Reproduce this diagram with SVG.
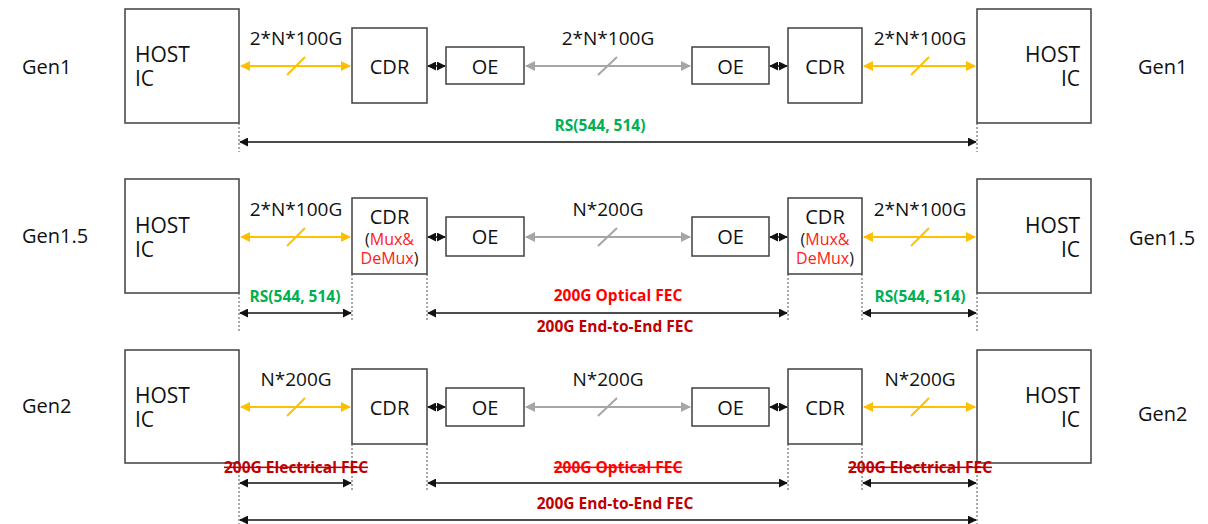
<svg xmlns="http://www.w3.org/2000/svg" width="1208" height="524" viewBox="0 0 1208 524">
<defs>
<style>
text{font-family:"Open Sans","Noto Sans","Liberation Sans",sans-serif;fill:#111}
.box{fill:#fff;stroke:#404040;stroke-width:1.5}
.host{font-size:21px}
.lbl{font-size:19px;text-anchor:middle}
.blk{font-size:20px;text-anchor:middle}
.gen{font-size:20px}
.mux{font-size:16px}
.red{fill:#ff2020}
.fec{font-size:15.5px;font-weight:bold;text-anchor:middle}
.grn{fill:#00b050}
.ored{fill:#ff0000}
.dred{fill:#c00000}
.strike{text-decoration:line-through}
.ylw{stroke:#ffc000;stroke-width:2;fill:none}
.gry{stroke:#a6a6a6;stroke-width:2;fill:none}
.bk{stroke:#111;stroke-width:1.5;fill:none}
.dot{stroke:#555;stroke-width:1;stroke-dasharray:2 2;fill:none}
</style>
<marker id="ay" viewBox="0 0 10 10" refX="9" refY="5" markerWidth="5" markerHeight="5" orient="auto-start-reverse"><path d="M0,0 L10,5 L0,10 z" fill="#ffc000"/></marker>
<marker id="ag" viewBox="0 0 10 10" refX="9" refY="5" markerWidth="5" markerHeight="5" orient="auto-start-reverse"><path d="M0,0 L10,5 L0,10 z" fill="#a6a6a6"/></marker>
<marker id="ab" viewBox="0 0 10 10" refX="9" refY="5" markerWidth="6" markerHeight="6" orient="auto-start-reverse"><path d="M0,0 L10,5 L0,10 z" fill="#111"/></marker>
</defs>
<rect width="1208" height="524" fill="#fff"/>

<!-- Row labels -->
<g id="labels">
<text class="gen" x="22" y="74">Gen1</text>
<text class="gen" x="1138" y="74">Gen1</text>
<text class="gen" x="22" y="243">Gen1.5</text>
<text class="gen" x="1129" y="245">Gen1.5</text>
<text class="gen" x="22" y="413">Gen2</text>
<text class="gen" x="1138" y="421">Gen2</text>
</g>

<!-- Gen1 nodes -->
<g id="g1-host-l"><rect class="box" x="125" y="9" width="114" height="114"/><text class="host" x="135" y="62">HOST<tspan x="135" dy="24">IC</tspan></text></g>
<g id="g1-cdr-l"><rect class="box" x="352" y="28" width="75" height="75"/><text class="blk" x="389.5" y="74">CDR</text></g>
<g id="g1-oe-l"><rect class="box" x="446" y="47" width="78" height="37"/><text class="blk" x="485" y="74">OE</text></g>
<g id="g1-oe-r"><rect class="box" x="692" y="47" width="77" height="37"/><text class="blk" x="730.5" y="74">OE</text></g>
<g id="g1-cdr-r"><rect class="box" x="788" y="28" width="74" height="75"/><text class="blk" x="825" y="74">CDR</text></g>
<g id="g1-host-r"><rect class="box" x="977" y="9" width="114" height="114"/><text class="host" x="1080" y="62" text-anchor="end">HOST<tspan x="1080" dy="24">IC</tspan></text></g>

<!-- Gen1.5 nodes -->
<g id="g15-host-l"><rect class="box" x="125" y="179" width="114" height="114"/><text class="host" x="135" y="233">HOST<tspan x="135" dy="24">IC</tspan></text></g>
<g id="g15-cdr-l"><rect class="box" x="352" y="198" width="75" height="76"/><text class="blk" x="389.5" y="224">CDR<tspan class="mux" x="389.5" dy="21">(<tspan class="red">Mux&amp;</tspan></tspan><tspan class="mux" x="389.5" dy="19"><tspan class="red">DeMux</tspan>)</tspan></text></g>
<g id="g15-oe-l"><rect class="box" x="446" y="217" width="78" height="39"/><text class="blk" x="485" y="244">OE</text></g>
<g id="g15-oe-r"><rect class="box" x="692" y="217" width="77" height="39"/><text class="blk" x="730.5" y="244">OE</text></g>
<g id="g15-cdr-r"><rect class="box" x="788" y="198" width="74" height="76"/><text class="blk" x="825" y="224">CDR<tspan class="mux" x="825" dy="21">(<tspan class="red">Mux&amp;</tspan></tspan><tspan class="mux" x="825" dy="19"><tspan class="red">DeMux</tspan>)</tspan></text></g>
<g id="g15-host-r"><rect class="box" x="977" y="179" width="114" height="114"/><text class="host" x="1080" y="233" text-anchor="end">HOST<tspan x="1080" dy="24">IC</tspan></text></g>

<!-- Gen2 nodes -->
<g id="g2-host-l"><rect class="box" x="125" y="350" width="114" height="113"/><text class="host" x="135" y="403">HOST<tspan x="135" dy="24">IC</tspan></text></g>
<g id="g2-cdr-l"><rect class="box" x="352" y="369" width="75" height="75"/><text class="blk" x="389.5" y="415">CDR</text></g>
<g id="g2-oe-l"><rect class="box" x="446" y="388" width="78" height="38"/><text class="blk" x="485" y="415">OE</text></g>
<g id="g2-oe-r"><rect class="box" x="692" y="388" width="77" height="38"/><text class="blk" x="730.5" y="415">OE</text></g>
<g id="g2-cdr-r"><rect class="box" x="788" y="369" width="74" height="75"/><text class="blk" x="825" y="415">CDR</text></g>
<g id="g2-host-r"><rect class="box" x="977" y="350" width="114" height="113"/><text class="host" x="1080" y="403" text-anchor="end">HOST<tspan x="1080" dy="24">IC</tspan></text></g>

<!-- Connectors -->
<g id="connectors">
<!-- Gen1 -->
<line class="ylw" x1="241" y1="66" x2="350" y2="66" marker-start="url(#ay)" marker-end="url(#ay)"/>
<line class="ylw" x1="287" y1="75" x2="305" y2="57"/>
<line class="bk" x1="428" y1="66" x2="445" y2="66" marker-start="url(#ab)" marker-end="url(#ab)"/>
<line class="gry" x1="526" y1="66" x2="690" y2="66" marker-start="url(#ag)" marker-end="url(#ag)"/>
<line class="gry" x1="598" y1="75" x2="617" y2="57"/>
<line class="bk" x1="770" y1="66" x2="787" y2="66" marker-start="url(#ab)" marker-end="url(#ab)"/>
<line class="ylw" x1="864" y1="66" x2="975" y2="66" marker-start="url(#ay)" marker-end="url(#ay)"/>
<line class="ylw" x1="911" y1="75" x2="929" y2="57"/>
<!-- Gen1.5 -->
<line class="ylw" x1="241" y1="237" x2="350" y2="237" marker-start="url(#ay)" marker-end="url(#ay)"/>
<line class="ylw" x1="287" y1="246" x2="305" y2="228"/>
<line class="bk" x1="428" y1="237" x2="445" y2="237" marker-start="url(#ab)" marker-end="url(#ab)"/>
<line class="gry" x1="526" y1="237" x2="690" y2="237" marker-start="url(#ag)" marker-end="url(#ag)"/>
<line class="gry" x1="598" y1="246" x2="617" y2="228"/>
<line class="bk" x1="770" y1="237" x2="787" y2="237" marker-start="url(#ab)" marker-end="url(#ab)"/>
<line class="ylw" x1="864" y1="237" x2="975" y2="237" marker-start="url(#ay)" marker-end="url(#ay)"/>
<line class="ylw" x1="911" y1="246" x2="929" y2="228"/>
<!-- Gen2 -->
<line class="ylw" x1="241" y1="407" x2="350" y2="407" marker-start="url(#ay)" marker-end="url(#ay)"/>
<line class="ylw" x1="287" y1="416" x2="305" y2="398"/>
<line class="bk" x1="428" y1="407" x2="445" y2="407" marker-start="url(#ab)" marker-end="url(#ab)"/>
<line class="gry" x1="526" y1="407" x2="690" y2="407" marker-start="url(#ag)" marker-end="url(#ag)"/>
<line class="gry" x1="598" y1="416" x2="617" y2="398"/>
<line class="bk" x1="770" y1="407" x2="787" y2="407" marker-start="url(#ab)" marker-end="url(#ab)"/>
<line class="ylw" x1="864" y1="407" x2="975" y2="407" marker-start="url(#ay)" marker-end="url(#ay)"/>
<line class="ylw" x1="911" y1="416" x2="929" y2="398"/>

<!-- dotted extension lines -->
<line class="dot" x1="239" y1="123" x2="239" y2="152"/>
<line class="dot" x1="977" y1="123" x2="977" y2="152"/>
<line class="dot" x1="239" y1="293" x2="239" y2="331"/>
<line class="dot" x1="352" y1="274" x2="352" y2="320"/>
<line class="dot" x1="427" y1="274" x2="427" y2="320"/>
<line class="dot" x1="788" y1="274" x2="788" y2="320"/>
<line class="dot" x1="862" y1="274" x2="862" y2="320"/>
<line class="dot" x1="977" y1="293" x2="977" y2="331"/>
<line class="dot" x1="239" y1="463" x2="239" y2="524"/>
<line class="dot" x1="352" y1="444" x2="352" y2="490"/>
<line class="dot" x1="427" y1="444" x2="427" y2="490"/>
<line class="dot" x1="788" y1="444" x2="788" y2="490"/>
<line class="dot" x1="862" y1="444" x2="862" y2="490"/>
<line class="dot" x1="977" y1="463" x2="977" y2="524"/>

<!-- dimension arrows -->
<line class="bk" x1="240" y1="142" x2="976" y2="142" marker-start="url(#ab)" marker-end="url(#ab)"/>
<line class="bk" x1="240" y1="313" x2="351" y2="313" marker-start="url(#ab)" marker-end="url(#ab)"/>
<line class="bk" x1="428" y1="313" x2="787" y2="313" marker-start="url(#ab)" marker-end="url(#ab)"/>
<line class="bk" x1="863" y1="313" x2="976" y2="313" marker-start="url(#ab)" marker-end="url(#ab)"/>
<line class="bk" x1="240" y1="483" x2="351" y2="483" marker-start="url(#ab)" marker-end="url(#ab)"/>
<line class="bk" x1="428" y1="483" x2="787" y2="483" marker-start="url(#ab)" marker-end="url(#ab)"/>
<line class="bk" x1="863" y1="483" x2="976" y2="483" marker-start="url(#ab)" marker-end="url(#ab)"/>
<line class="bk" x1="240" y1="520" x2="976" y2="520" marker-start="url(#ab)" marker-end="url(#ab)"/>
</g>

<!-- Connector labels -->
<g id="link-labels">
<text class="lbl" x="296" y="45">2*N*100G</text>
<text class="lbl" x="608" y="45">2*N*100G</text>
<text class="lbl" x="920" y="45">2*N*100G</text>
<text class="lbl" x="296" y="216">2*N*100G</text>
<text class="lbl" x="608" y="216">N*200G</text>
<text class="lbl" x="920" y="216">2*N*100G</text>
<text class="lbl" x="296" y="386">N*200G</text>
<text class="lbl" x="608" y="386">N*200G</text>
<text class="lbl" x="920" y="386">N*200G</text>

<text class="fec grn" x="600" y="131">RS(544, 514)</text>
<text class="fec grn" x="295" y="302">RS(544, 514)</text>
<text class="fec grn" x="920" y="302">RS(544, 514)</text>
<text class="fec ored" x="618" y="301">200G Optical FEC</text>
<text class="fec dred" x="615" y="332">200G End-to-End FEC</text>
<text class="fec dred strike" x="296" y="473">200G Electrical FEC</text>
<text class="fec ored strike" x="618" y="473">200G Optical FEC</text>
<text class="fec dred strike" x="920" y="473">200G Electrical FEC</text>
<text class="fec dred" x="615" y="509">200G End-to-End FEC</text>
</g>
</svg>
